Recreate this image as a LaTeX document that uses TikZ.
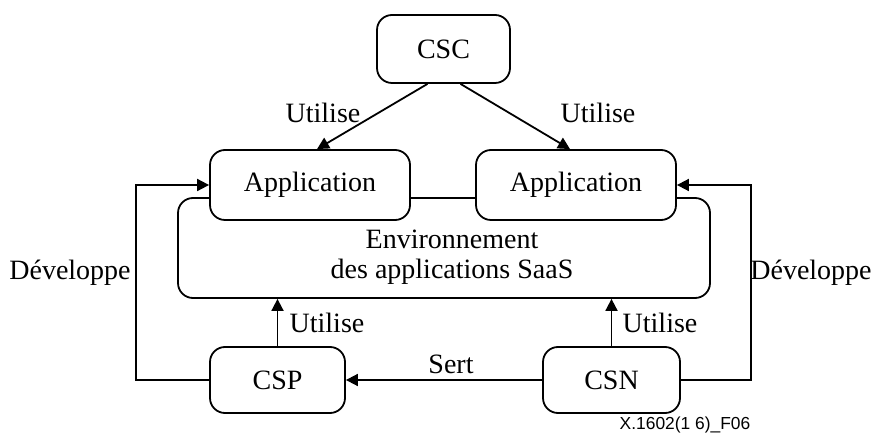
\documentclass[tikz,border=0pt]{standalone}
\usepackage{fontspec}
\setmainfont{Liberation Serif}
\newfontfamily\captionfont{Liberation Sans}
\usetikzlibrary{arrows.meta,calc}
\begin{document}
\begin{tikzpicture}[x=0.5pt,y=-0.5pt,
  box/.style={draw,line width=0.9pt,rounded corners=7.5pt,fill=white,font=\fontsize{14}{16}\selectfont,inner sep=0pt},
  conn/.style={line width=0.9pt,-{Triangle[length=6pt,width=6pt]}},
  plain/.style={line width=0.9pt},
  lbl/.style={font=\fontsize{14}{16}\selectfont,inner sep=0pt}]
\useasboundingbox (0,0) rectangle (881,437);
% environment box, drawn first so the application boxes sit on top
\node[box,minimum width=266pt,minimum height=50pt] (env) at (444,248) {};
\node[lbl,align=center] (envtext) at (452,257) {Environnement\\[-1pt]des applications SaaS};
\node[box,minimum width=66.5pt,minimum height=34pt] (csc) at (443.5,49) {CSC};
\node[box,minimum width=100pt,minimum height=35pt] (appl) at (310,185) {Application};
\node[box,minimum width=100pt,minimum height=35pt] (appr) at (576,185) {Application};
\node[box,minimum width=67.5pt,minimum height=33pt] (csp) at (277.5,380) {CSP};
\node[box,minimum width=68.5pt,minimum height=33pt] (csn) at (611.5,380) {CSN};
% connectors
\draw[conn] ([xshift=-8pt]csc.south) -- ([xshift=3.5pt]appl.north);
\draw[conn] ([xshift=8.5pt]csc.south) -- ([xshift=-3pt]appr.north);
\draw[conn] (csp.west) -- ++(-36.5pt,0) |- (appl.west);
\draw[conn] (csn.east) -- ++(35pt,0) |- (appr.east);
\draw[conn] (csp.north) -- (csp.north |- env.south);
\draw[conn] (csn.north) -- (csn.north |- env.south);
\draw[conn] (csn.west) -- (csp.east);
% labels
\node[lbl] (u1) at (323,113) {Utilise};
\node[lbl] (u2) at (598,113) {Utilise};
\node[lbl] (u3) at (327,323) {Utilise};
\node[lbl] (u4) at (660,323) {Utilise};
\node[lbl] (sert) at (451,364) {Sert};
\node[lbl] (d1) at (70,273) {Développe};
\node[lbl] (d2) at (811,273) {Développe};
\node[inner sep=0pt,font=\captionfont\fontsize{8.7}{10}\selectfont] (cap) at (685,425) {X.1602(1 6)\_F06};
\end{tikzpicture}
\end{document}
